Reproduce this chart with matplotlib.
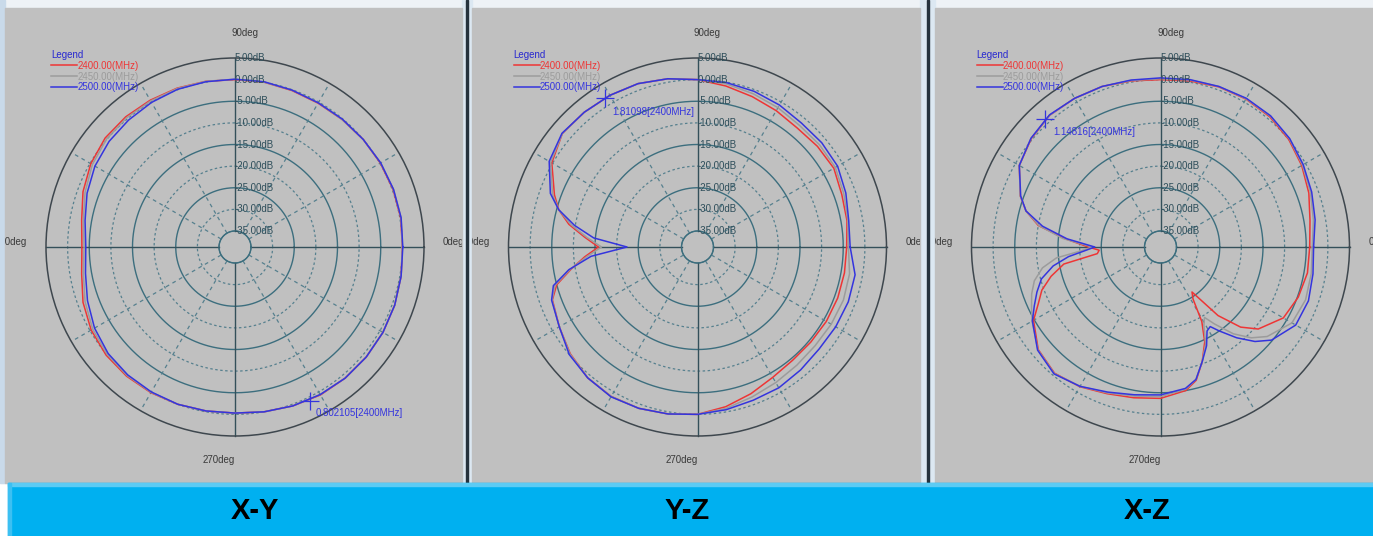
import numpy as np
import matplotlib.pyplot as plt
from matplotlib.patches import Rectangle

# ---- data (dB vs angle in degrees) ----
freq_labels = ["2400.00(MHz)", "2450.00(MHz)", "2500.00(MHz)"]

xy_angles = [0, 10, 20, 30, 40, 50, 60, 70, 80, 90, 100, 110, 120, 130, 140, 150, 160, 170, 180,
             190, 200, 210, 220, 230, 240, 250, 260, 270, 280, 290, 300, 310, 320, 330, 340, 350, 360]
xy_2400 = [0.0, 0.2, 0.2, 0.1, 0.0, -0.2, -0.3, -0.2, 0.0, 0.0, 0.2, 0.4, 0.5, 0.6, 0.5, -0.2, -1.3, -2.7, -3.3,
           -2.7, -1.3, -0.3, 0.2, 0.3, 0.2, 0.0, -0.2, -0.3, 0.0, 0.4, 0.8, 0.9, 0.9, 0.8, 0.6, 0.3, 0.0]
xy_2450 = [0.0, 0.3, 0.3, 0.2, 0.0, -0.2, -0.2, -0.1, 0.0, 0.1, 0.2, 0.3, 0.3, 0.3, 0.1, -0.6, -1.8, -3.1, -3.8,
           -3.1, -1.8, -0.7, -0.1, 0.1, 0.1, 0.0, -0.2, -0.3, 0.0, 0.4, 0.7, 0.9, 0.9, 0.8, 0.6, 0.3, 0.0]
xy_2500 = [0.1, 0.3, 0.3, 0.2, 0.0, -0.1, -0.2, -0.1, 0.1, 0.1, 0.1, 0.1, -0.1, -0.4, -0.7, -1.3, -2.3, -3.5, -4.2,
           -3.6, -2.4, -1.2, -0.4, -0.1, 0.0, 0.0, -0.2, -0.3, 0.0, 0.4, 0.7, 0.9, 0.9, 0.8, 0.6, 0.3, 0.1]

yz_angles = [0, 10, 20, 30, 40, 50, 60, 70, 80, 90, 100, 110, 120, 130, 140, 150,
             160, 165, 170, 175, 180, 185, 190, 195, 200,
             210, 220, 230, 240, 250, 260, 270, 280, 290, 300, 310, 320, 330, 340, 350, 360]
yz_2400 = [-4.2, -3.6, -3.2, -2.3, -2.5, -2.8, -2.3, -1.7, -0.9, 0.0, 0.8, 1.5, 1.8, 2.0, 2.1, 0.2,
           -3.5, -5.5, -8.5, -12.5, -15.8, -12.5, -9.0, -5.0, -3.0,
           -1.8, -0.3, 0.8, 1.2, 1.0, 0.5, 0.0, -1.2, -2.6, -3.9, -4.5, -4.5, -4.3, -4.2, -4.2, -4.2]
yz_2450 = [-3.8, -3.4, -2.7, -1.9, -1.9, -2.0, -1.5, -1.0, -0.4, 0.0, 0.8, 1.5, 1.8, 2.0, 2.1, 0.5,
           -3.0, -5.5, -9.0, -13.0, -16.5, -13.0, -8.8, -4.6, -2.9,
           -1.8, -0.2, 0.8, 1.2, 1.0, 0.5, 0.0, -0.8, -1.8, -2.5, -3.0, -3.2, -3.0, -2.8, -3.0, -3.8]
yz_2500 = [-3.4, -3.2, -2.2, -1.3, -1.2, -1.3, -0.8, -0.4, -0.1, 0.0, 0.8, 1.5, 1.8, 2.0, 2.2, 0.9,
           -2.5, -5.5, -9.8, -14.6, -22.4, -14.0, -8.5, -4.2, -2.8,
           -1.8, 0.0, 0.8, 1.3, 1.0, 0.5, 0.0, -0.5, -1.0, -1.1, -1.6, -2.0, -1.8, -1.6, -1.7, -3.4]

xz_angles = [0, 10, 20, 30, 40, 50, 60, 70, 80, 90, 100, 110, 120, 130, 140, 150,
             160, 165, 170, 175, 180, 183, 186, 190, 195, 200, 205, 210,
             220, 230, 240, 250, 260, 270, 280,
             285, 290, 295, 299, 302, 305, 310, 315, 320,
             330, 340, 350, 360]
xz_2400 = [-4.2, -3.6, -2.2, -1.0, 0.0, 0.6, 0.8, 0.7, 0.3, 0.0, 0.3, 0.8, 1.0, 1.1, 0.3, -1.0,
           -4.2, -6.5, -10.0, -16.5, -22.0, -24.5, -24.0, -16.0, -12.5, -9.5, -7.5, -4.8,
           -1.8, -0.6, -1.4, -2.6, -3.3, -3.7, -5.0,
           -6.8, -10.5, -14.5, -19.0, -24.5, -26.0, -18.0, -12.5, -9.2,
           -5.9, -4.8, -4.2, -4.2]
xz_2450 = [-3.6, -2.8, -1.8, -0.8, 0.2, 0.8, 0.9, 0.8, 0.5, 0.2, 0.4, 0.8, 1.0, 1.1, 0.4, -1.0,
           -4.2, -6.5, -10.2, -16.0, -23.0, -20.0, -14.5, -11.0, -8.5, -7.0, -5.8, -4.4,
           -1.7, -0.5, -1.5, -2.8, -3.7, -4.1, -5.3,
           -7.0, -10.5, -14.0, -18.0, -19.5, -17.0, -12.5, -9.0, -6.5,
           -3.6, -3.0, -3.3, -3.6]
xz_2500 = [-3.3, -2.4, -1.5, -0.6, 0.3, 0.9, 1.0, 0.8, 0.6, 0.4, 0.5, 0.8, 1.0, 1.2, 0.4, -1.0,
           -4.3, -6.5, -11.0, -17.0, -23.5, -21.0, -17.3, -13.5, -10.2, -8.3, -6.5, -4.5,
           -1.6, -0.4, -1.5, -3.0, -4.0, -4.5, -5.5,
           -7.0, -10.5, -13.5, -16.5, -17.0, -15.0, -11.3, -7.8, -5.2,
           -2.6, -2.3, -2.9, -3.3]

# marker readouts: (angle deg, value dB, text)
markers = [(296, 0.802105, "0.802105[2400MHz]"),
           (122, 1.81098, "1.81098[2400MHz]"),
           (132, 1.14816, "1.14816[2400MHz]")]
captions = ["X-Y", "Y-Z", "X-Z"]
ring_levels = [5, 0, -5, -10, -15, -20, -25, -30, -35]

panels = [(xy_angles, [xy_2400, xy_2450, xy_2500]),
          (yz_angles, [yz_2400, yz_2450, yz_2500]),
          (xz_angles, [xz_2400, xz_2450, xz_2500])]

# ---- layout (pixels) ----
W, H = 1373, 536
centers = [235, 697.5, 1160.5]
CY = 247
R = 189          # outer ring (5 dB) radius in px
R_IN = 16        # inner ring (-35 dB) radius in px
rorigin = -35 - R_IN * 40 / (R - R_IN)
panel_x = [(5, 462), (472, 920), (935, 1373)]
caption_x = [255, 687, 1147]
mark_off = [(6, -12), (8, -14), (8, -13)]

trace_colors = ["#EE3535", "#9C9C9C", "#3434DE"]
solid_c = "#3C6E7E"
dot_c = "#56808E"
axis_c = "#34505A"
outer_c = "#3E474E"
small = dict(family="Liberation Sans", fontsize=7)

fig = plt.figure(figsize=(W / 100, H / 100), dpi=100)
fig.patch.set_facecolor("white")

bg = fig.add_axes([0, 0, 1, 1])
bg.set_xlim(0, W)
bg.set_ylim(H, 0)
bg.axis("off")

# window chrome
bg.add_patch(Rectangle((0, 0), W, 483, color="#EEF2F6"))
bg.add_patch(Rectangle((0, 0), 5, 483, color="#C9DAEA"))
for x0, x1 in [(462, 472), (920, 935)]:
    bg.add_patch(Rectangle((x0, 0), x1 - x0, 483, color="#DCE8F2"))
    bg.add_patch(Rectangle(((x0 + x1) / 2 - 1, 0), 2, 483, color="#25323D"))
panel_rects = []
for x0, x1 in panel_x:
    rect = Rectangle((x0, 8), x1 - x0, 475, color="#C0C0C0")
    bg.add_patch(rect)
    panel_rects.append(rect)

# caption band
bg.add_patch(Rectangle((8, 483), W - 8, 53, color="#00B0F0"))
bg.add_patch(Rectangle((8, 483), W - 8, 2.5, color="#5CCBF4"))
bg.add_patch(Rectangle((8, 483), 3, 53, color="#3CC0F2"))
for cx_cap, cap in zip(caption_x, captions):
    bg.text(cx_cap, 511, cap, ha="center", va="center", fontsize=21, fontweight="bold",
            family=["Liberation Sans Narrow", "Liberation Sans"], color="black")

theta_full = np.linspace(0, 2 * np.pi, 721)

for i, (cx, (angles, series)) in enumerate(zip(centers, panels)):
    rect = panel_rects[i]
    # angle labels (clipped to the panel like the screenshot)
    for x, y, s, ha in [(cx + 10, 33, "90deg", "center"), (cx - 16, 460, "270deg", "center"),
                        (cx + 208, 242, "0deg", "left"), (cx - 208, 242, "180deg", "right")]:
        t = bg.text(x, y, s, ha=ha, va="center", color="#3A3A3A", clip_on=True, **small)
        t.set_clip_path(rect)

    ax = fig.add_axes([(cx - R) / W, 1 - (CY + R) / H, 2 * R / W, 2 * R / H], projection="polar")
    ax.set_facecolor("none")
    ax.set_ylim(-35, 5)
    ax.set_rorigin(rorigin)
    ax.set_xticks([])
    ax.set_yticks([])
    ax.grid(False)
    ax.spines["polar"].set_color(outer_c)
    ax.spines["polar"].set_linewidth(1.1)
    if "inner" in ax.spines:
        ax.spines["inner"].set_color(solid_c)

    # rings
    for lev in ring_levels[1:]:
        if lev % 10 == 0:
            ax.plot(theta_full, np.full_like(theta_full, lev), color=dot_c, lw=0.9,
                    ls=(0, (2, 2)), clip_on=False)
        else:
            ax.plot(theta_full, np.full_like(theta_full, lev), color=solid_c, lw=1.0, clip_on=False)
    # radials
    for a in range(0, 360, 30):
        th = np.deg2rad(a)
        if a % 90 == 0:
            ax.plot([th, th], [-35, 5], color=axis_c, lw=1.0, clip_on=False)
        else:
            ax.plot([th, th], [-35, 5], color=dot_c, lw=0.9, ls=(0, (3, 3)), clip_on=False)

    # dB labels
    for lev in ring_levels:
        ax.text(np.pi / 2, lev, f"{lev:.2f}dB", ha="left", va="center", color="#2E4E5A",
                clip_on=False, **small)

    # traces
    th = np.deg2rad(angles)
    for vals, col, lab in zip(series, trace_colors, freq_labels):
        ax.plot(th, vals, color=col, lw=1.1, label=lab, clip_on=False)

    # marker
    m_ang, m_val, m_txt = markers[i]
    ax.plot(np.deg2rad(m_ang), m_val, "+", ms=13, mew=0.9, color="#3434DE", clip_on=False)
    ax.annotate(m_txt, (np.deg2rad(m_ang), m_val), xytext=mark_off[i], textcoords="offset pixels",
                ha="left", va="center", color="#3434DE", **small)

    # legend
    leg = ax.legend(title="Legend", loc="upper left", frameon=False,
                    bbox_to_anchor=((cx - 184) / W, 1 - 50 / H), bbox_transform=fig.transFigure,
                    prop={"family": "Liberation Sans", "size": 7}, title_fontproperties={"family": "Liberation Sans", "size": 7},
                    borderpad=0, borderaxespad=0, handlelength=2.7, handletextpad=0.0,
                    labelspacing=0.08, alignment="left")
    leg.get_title().set_color("#2828D0")
    for txt, col in zip(leg.get_texts(), trace_colors):
        txt.set_color(col)

fig.savefig("out.png", dpi=100)
